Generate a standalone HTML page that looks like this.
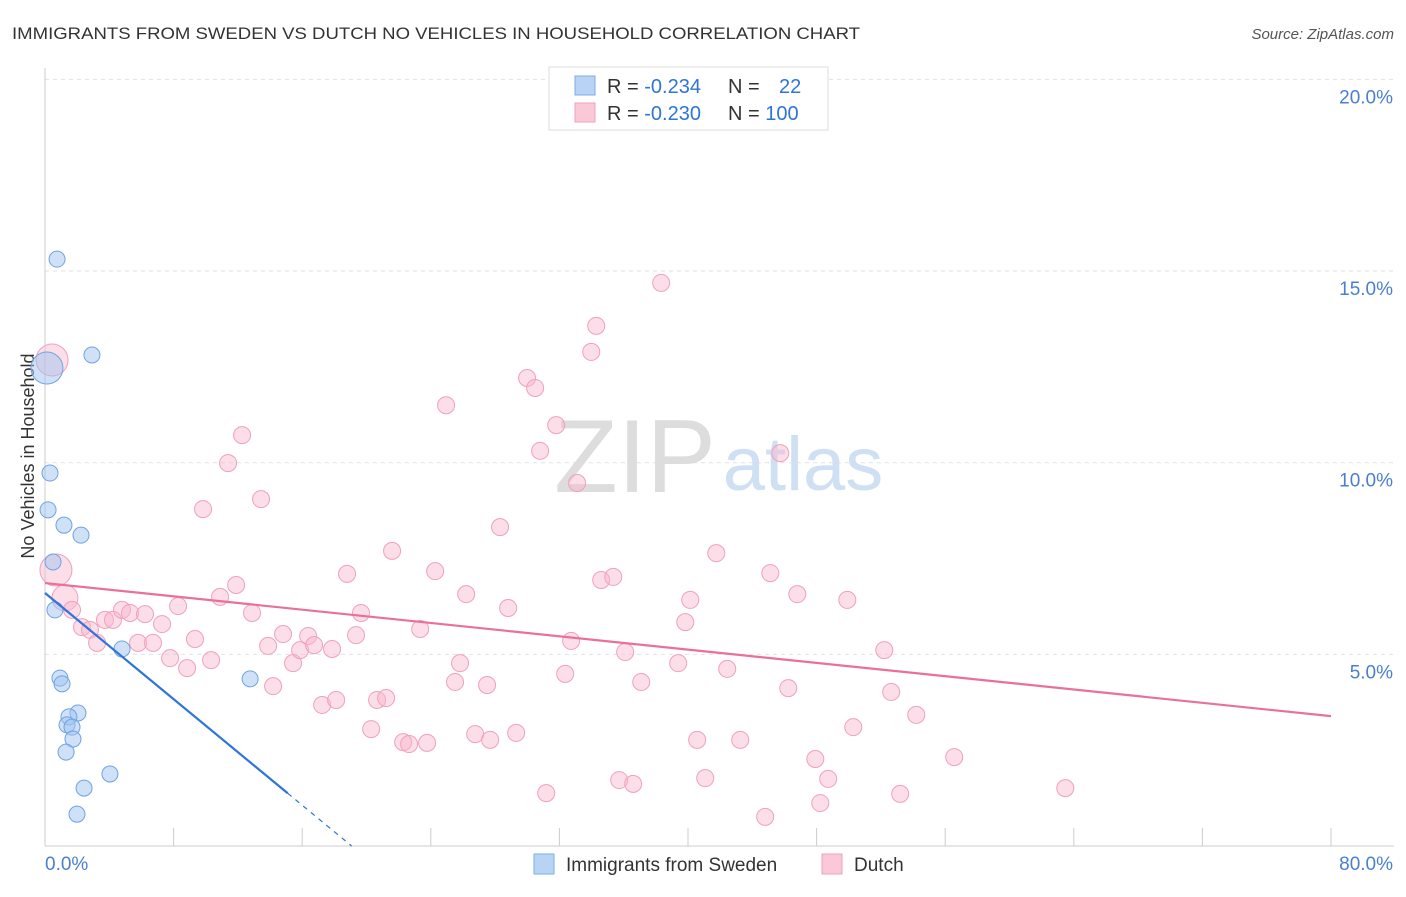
<!DOCTYPE html>
<html><head><meta charset="utf-8"><style>
body{margin:0;background:#fff;font-family:"Liberation Sans",sans-serif;}
svg text{font-family:"Liberation Sans",sans-serif;}
</style></head><body>
<svg id="chart" width="1406" height="892">
<text x="12" y="39" font-size="17" fill="#333" textLength="848" lengthAdjust="spacingAndGlyphs">IMMIGRANTS FROM SWEDEN VS DUTCH NO VEHICLES IN HOUSEHOLD CORRELATION CHART</text>
<text x="1394" y="39" font-size="15" fill="#555" font-style="italic" text-anchor="end">Source: ZipAtlas.com</text>
<text transform="translate(34,456) rotate(-90)" font-size="18" fill="#333" text-anchor="middle">No Vehicles in Household</text>
<g id="grid"></g>
<g><text x="635" y="492" font-size="104" fill="#ddd" font-family="Liberation Serif" text-anchor="middle">ZIP</text><text x="803" y="490" font-size="76" fill="#cfe0f4" text-anchor="middle">atlas</text></g>
<g id="marks"></g>
<g>
<rect x="549" y="67" width="279" height="63" fill="#fff" stroke="#ddd"/>
<rect x="575" y="76" width="20" height="19" fill="#b9d3f5" stroke="#7aaee8"/>
<rect x="575" y="103" width="20" height="19" fill="#fbc8d8" stroke="#f0a0bc"/>
<text x="607" y="93" font-size="20" fill="#333">R = <tspan fill="#2f74d8">-0.234</tspan></text>
<text x="728" y="93" font-size="20" fill="#333">N = <tspan fill="#2f74d8" x="779">22</tspan></text>
<text x="607" y="120" font-size="20" fill="#333">R = <tspan fill="#2f74d8">-0.230</tspan></text>
<text x="728" y="120" font-size="20" fill="#333">N = <tspan fill="#2f74d8">100</tspan></text>
</g>
<g>
<rect x="534" y="854" width="20" height="20" fill="#b9d3f5" stroke="#7aaee8"/>
<text x="566" y="871" font-size="19" fill="#333">Immigrants from Sweden</text>
<rect x="822" y="854" width="20" height="20" fill="#fbc8d8" stroke="#f0a0bc"/>
<text x="854" y="871" font-size="19" fill="#333">Dutch</text>
</g>
</svg>
<script>
const blueX=[0.75,2.92,0.12,0.31,0.19,1.18,2.24,0.5,0.62,4.79,0.93,1.06,12.76,2.05,1.49,1.37,1.68,1.74,1.31,4.04,2.43,1.99];
const blueY=[15.31,12.81,12.47,9.73,8.77,8.37,8.11,7.41,6.16,5.14,4.38,4.23,4.36,3.47,3.37,3.16,3.1,2.79,2.45,1.88,1.51,0.83];
const pinkX=[0.44,0.68,1.24,1.68,2.3,2.8,3.24,3.73,4.23,4.79,5.29,5.79,6.22,6.72,7.28,7.78,8.28,8.84,9.33,9.83,10.33,10.89,11.39,11.89,12.26,12.88,13.44,13.88,14.19,14.81,15.43,15.87,16.37,16.74,17.24,17.86,18.11,18.79,19.35,19.66,20.29,20.66,21.22,21.59,22.28,22.65,23.34,23.77,24.27,24.95,25.51,25.82,26.2,26.76,27.5,27.69,28.31,28.81,29.31,29.99,30.49,30.8,31.8,32.36,32.73,33.1,31.18,33.98,34.29,34.6,35.35,35.72,36.09,36.59,37.09,38.33,39.39,39.83,40.14,40.57,41.07,41.76,42.44,43.25,44.8,45.12,45.74,46.24,46.8,47.92,48.23,48.72,49.91,50.28,52.21,52.64,53.2,54.2,56.56,63.47];
const pinkY=[12.68,7.2,6.47,6.16,5.71,5.64,5.3,5.9,5.9,6.16,6.08,5.3,6.05,5.3,5.79,4.9,6.26,4.64,5.4,8.79,4.85,6.5,9.99,6.81,10.72,6.08,9.05,5.22,4.17,5.53,4.77,5.11,5.48,5.24,3.68,5.14,3.81,7.1,5.5,6.08,3.05,3.81,3.86,7.7,2.71,2.66,5.66,2.69,7.17,11.5,4.28,4.77,6.57,2.92,4.2,2.77,8.32,6.21,2.95,12.21,11.95,10.31,10.98,4.49,5.35,9.47,1.38,12.89,13.57,6.94,7.02,1.72,5.06,1.62,4.28,14.69,4.77,5.84,6.42,2.77,1.77,7.64,4.62,2.77,0.76,7.12,10.25,4.12,6.57,2.27,1.12,1.75,6.42,3.1,5.11,4.02,1.36,3.42,2.32,1.51];
const blueTrend=[6.6,-0.346];   // [intercept %, slope]
const pinkTrend=[6.86,-0.0434];
const yTicks=[5,10,15,20];
const xTickCount=10;
const X0=45,X1=1331,Y0=846,PY=38.33;
const sx=v=>X0+(X1-X0)*v/80, sy=v=>Y0-v*PY;
const NS="http://www.w3.org/2000/svg";
function mk(t,a,p){const e=document.createElementNS(NS,t);for(const k in a)e.setAttribute(k,a[k]);p.appendChild(e);return e;}
const grid=document.getElementById('grid'),marks=document.getElementById('marks');
yTicks.forEach(t=>{
 const l=mk('line',{x1:X0,x2:1394,y1:sy(t),y2:sy(t),stroke:'#e2e2e2','stroke-dasharray':'4,4'},grid);
 
 
 const tx=mk('text',{x:1393,y:sy(t)+24,'font-size':19,fill:'#4a7fd0','text-anchor':'end'},grid);
 tx.textContent=t.toFixed(1)+'%';
 
 
});
const ax=mk('line',{x1:X0,x2:X0,y1:68,y2:Y0,stroke:'#ccc'},grid);


const bx=mk('line',{x1:X0,x2:1394,y1:Y0,y2:Y0,stroke:'#ccc'},grid);


for(let i=1;i<=xTickCount;i++){const v=80*i/xTickCount;const t=mk('line',{x1:sx(v),x2:sx(v),y1:828,y2:Y0,stroke:'#ccc'},grid);
 
 }
const xl0=mk('text',{x:45,y:870,'font-size':19,fill:'#4a7fd0'},grid);xl0.textContent='0.0%';


const xl1=mk('text',{x:1393,y:870,'font-size':19,fill:'#4a7fd0','text-anchor':'end'},grid);xl1.textContent='80.0%';


pinkX.forEach((x,i)=>{const r=i<2?16:(i==2?13:8.5);
 const c=mk('circle',{cx:sx(x),cy:sy(pinkY[i]),r:r,fill:'rgba(248,182,204,0.45)',stroke:'#f0a0bc','stroke-width':1},marks);
 
 });
blueX.forEach((x,i)=>{const r=i==2?16:8;
 const c=mk('circle',{cx:sx(x),cy:sy(blueY[i]),r:r,fill:'rgba(160,196,240,0.5)',stroke:'#6fa3e4','stroke-width':1},marks);
 
 });
const pl=mk('line',{x1:sx(0),y1:sy(pinkTrend[0]),x2:sx(80),y2:sy(pinkTrend[0]+pinkTrend[1]*80),stroke:'#e8709a','stroke-width':2.2},marks);


const xEnd=15.1,xZero=-blueTrend[0]/blueTrend[1];
const bl=mk('line',{x1:sx(0),y1:sy(blueTrend[0]),x2:sx(xEnd),y2:sy(blueTrend[0]+blueTrend[1]*xEnd),stroke:'#2f74d8','stroke-width':2.2},marks);


const bd=mk('line',{x1:sx(xEnd),y1:sy(blueTrend[0]+blueTrend[1]*xEnd),x2:sx(xZero),y2:sy(0),stroke:'#2f74d8','stroke-width':1.2,'stroke-dasharray':'5,5'},marks);


</script>
</body></html>
